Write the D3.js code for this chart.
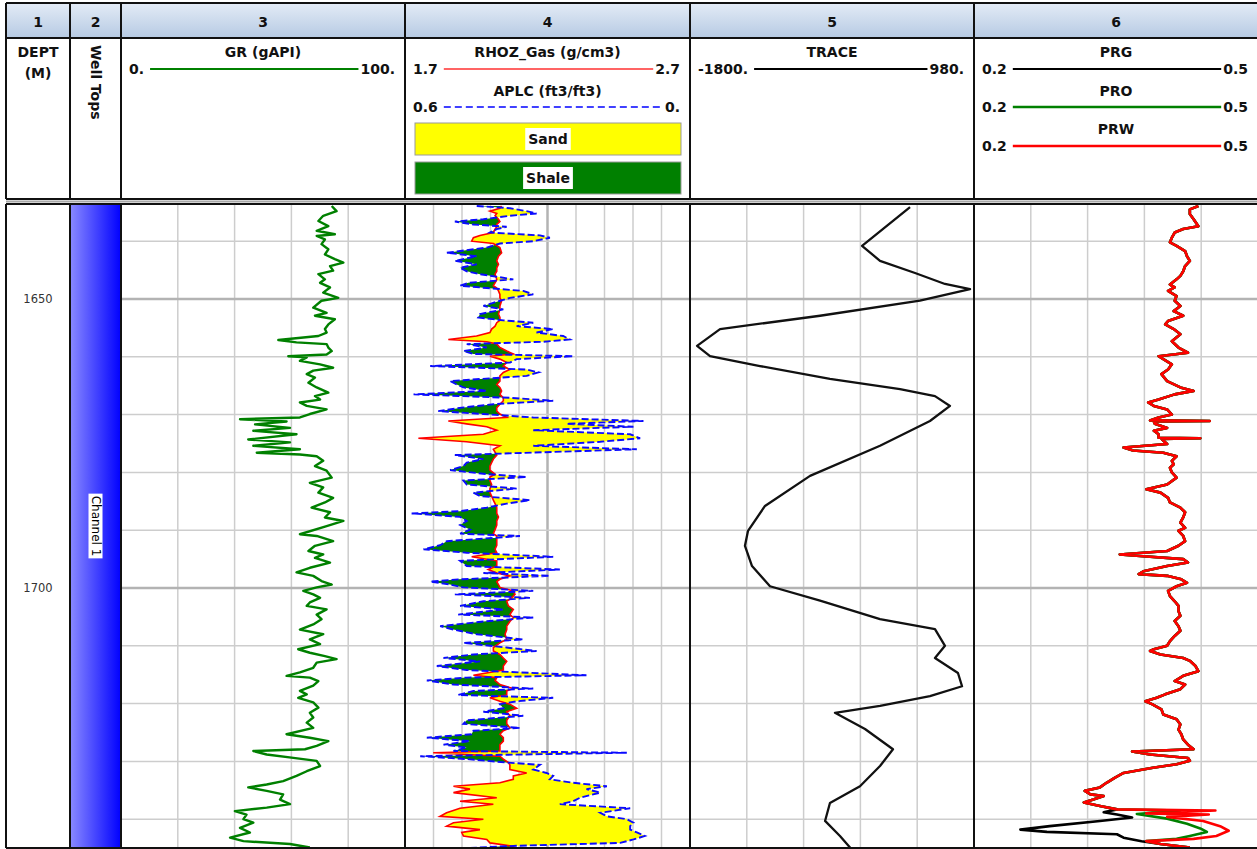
<!DOCTYPE html>
<html>
<head>
<meta charset="utf-8">
<script src="https://cdn.jsdelivr.net/npm/d3@7"></script>
<style>
  body { margin: 0; background: #fff; }
  svg { display: block; }
  text { font-family: "DejaVu Sans", Verdana, sans-serif; }
</style>
</head>
<body>
<svg id="log" width="1257" height="849"></svg>
<script>
// ---------------- Data ----------------
const trackNumbers = ["1", "2", "3", "4", "5", "6"];
const depthTicks = [1650, 1700];

// Curve scale ranges (left, right)
const grRange = [0, 100];
const rhozRange = [1.7, 2.7];
const aplcRange = [0.6, 0];
const traceRange = [-1800, 980];
const prRange = [0.2, 0.5];

// Scale labels as printed in the header
const grLabels = ["0.", "100."];
const rhozLabels = ["1.7", "2.7"];
const aplcLabels = ["0.6", "0."];
const traceLabels = ["-1800.", "980."];
const prLabels = ["0.2", "0.5"];

// Formation tops
const wellTops = [{ name: "Channel 1", top: 1600, base: 1780 }];

// GR (gAPI): [depth m, value]
const grLog = [
  [1633.9,74.2],[1634.8,75.9],[1635.6,71.2],[1636.5,69.5],[1637.4,73.0],[1638.2,68.9],[1638.8,75.3],[1639.1,68.9],
  [1639.7,71.8],[1640.5,70.6],[1641.4,73.0],[1642.3,71.8],[1643.1,75.3],[1643.7,78.3],[1644.3,73.6],[1645.1,74.7],
  [1645.7,69.5],[1646.6,71.8],[1647.2,70.1],[1648.0,73.6],[1648.9,71.2],[1649.8,76.5],[1650.3,70.6],[1651.5,67.7],
  [1652.4,72.4],[1652.9,68.3],[1653.5,75.3],[1654.4,73.0],[1655.2,71.8],[1655.8,72.4],[1656.4,69.5],[1657.1,55.4],
  [1657.5,61.8],[1657.8,72.4],[1658.4,73.0],[1659.0,74.2],[1659.6,72.4],[1659.9,58.9],[1660.1,65.4],[1660.7,63.0],
  [1661.3,70.1],[1661.9,74.7],[1662.4,67.7],[1663.0,65.4],[1663.6,68.3],[1664.5,66.0],[1665.3,68.9],[1666.2,73.0],
  [1666.8,68.3],[1667.4,70.1],[1667.9,63.0],[1668.5,65.4],[1669.1,72.4],[1669.9,66.5],[1670.5,63.0],[1670.8,41.9],
  [1671.2,58.3],[1671.7,47.2],[1672.3,59.5],[1672.8,46.6],[1673.4,61.8],[1674.3,44.8],[1674.8,59.5],[1675.4,46.6],
  [1676.0,63.0],[1676.6,47.8],[1676.9,63.0],[1677.2,68.9],[1678.0,71.2],[1678.9,68.3],[1679.7,72.4],[1680.9,74.2],
  [1681.8,66.5],[1682.6,71.2],[1683.5,69.5],[1684.4,74.7],[1685.2,71.8],[1686.1,67.1],[1686.9,73.6],[1687.8,71.8],
  [1688.4,78.3],[1689.3,72.4],[1690.7,63.0],[1691.0,68.9],[1691.9,74.7],[1692.7,68.3],[1693.6,66.0],[1694.2,71.2],
  [1694.8,68.3],[1695.6,73.6],[1696.5,66.5],[1697.3,61.8],[1697.9,67.7],[1698.8,70.6],[1699.4,74.2],[1699.9,68.9],
  [1700.5,64.2],[1701.1,67.7],[1701.7,70.1],[1702.5,66.5],[1703.1,65.4],[1703.7,72.4],[1704.6,68.9],[1705.4,70.6],
  [1706.3,67.7],[1707.2,63.0],[1708.0,71.2],[1708.9,66.5],[1709.7,70.1],[1710.6,62.4],[1711.2,66.5],[1711.8,71.8],
  [1712.3,75.9],[1712.9,68.9],[1713.8,67.7],[1714.6,63.0],[1715.2,58.3],[1715.5,66.5],[1716.1,69.5],[1716.9,67.7],
  [1717.8,63.0],[1718.4,65.4],[1719.0,62.4],[1719.8,67.7],[1720.7,69.5],[1721.6,66.5],[1722.4,67.7],[1723.3,65.4],
  [1724.2,67.7],[1725.3,58.3],[1725.9,66.5],[1726.5,73.0],[1727.3,68.9],[1727.9,64.8],[1728.2,46.6],[1728.8,51.3],
  [1729.4,60.7],[1729.9,68.9],[1730.8,70.1],[1731.7,65.4],[1732.5,61.8],[1733.4,57.1],[1734.0,51.3],[1734.5,44.8],
  [1735.1,51.3],[1735.7,57.1],[1736.6,56.0],[1737.4,59.5],[1738.0,51.3],[1738.6,40.1],[1739.2,44.2],[1740.0,43.1],
  [1740.6,46.6],[1741.5,41.9],[1742.3,45.4],[1743.2,38.4],[1743.8,43.1],[1744.3,59.5],[1744.9,66.5]
];

// Track 4 samples: depth (m), RHOZ_Gas (g/cm3), APLC (ft3/ft3)
const t4Depth = [
  1633.9,1634.3,1634.8,1635.2,1635.6,1636.2,1636.6,1637.1,1637.5,1637.9,
  1638.5,1639.0,1639.4,1640.0,1640.4,1641.1,1642.0,1642.6,1643.4,1644.0,
  1644.6,1645.2,1645.7,1646.6,1647.2,1647.7,1648.1,1648.6,1649.2,1649.8,
  1650.3,1651.2,1651.8,1652.6,1653.2,1653.7,1654.1,1654.7,1655.2,1655.8,
  1656.4,1657.0,1657.4,1657.8,1658.4,1659.0,1659.5,1659.9,1660.4,1661.0,
  1661.6,1662.2,1662.7,1663.3,1664.2,1664.8,1665.3,1665.9,1666.5,1667.1,
  1667.6,1668.2,1668.8,1669.4,1669.9,1670.5,1671.1,1671.6,1672.1,1672.7,
  1673.4,1674.1,1674.7,1675.4,1676.0,
  1677.0,1677.7,1678.3,1678.9,1679.6,1680.3,1680.8,1681.4,1682.1,1682.8,
  1683.5,1684.1,1684.8,1685.4,1686.1,1686.7,1687.1,1687.7,1688.4,1689.1,
  1689.9,1690.6,1691.0,1691.9,1692.6,1693.3,1693.9,1694.6,1695.3,1696.2,
  1696.8,1697.4,1697.9,1698.5,1698.9,1699.4,1699.9,1700.5,1701.1,1701.7,
  1702.3,1703.1,1703.7,1704.6,1705.1,1705.8,1706.6,1707.2,1708.0,1708.9,
  1709.5,1710.3,1710.9,1711.5,1712.1,1712.7,1713.5,1714.2,1715.1,1715.5,
  1716.0,1716.7,1717.4,1717.8,1718.5,1719.0,1719.6,1720.1,1720.8,1721.4,
  1722.1,1722.9,1723.5,1724.2,1724.7,1725.3,1725.9,1726.5,1727.1,1727.6,
  1728.2,1728.5,1729.1,1729.6,1730.2,1730.6,1731.4,1732.0,1732.5,1733.1,
  1733.7,1734.3,1734.8,1735.4,1736.3,1736.9,1737.4,1738.1,1738.9,1739.5,
  1740.0,1740.6,1741.2,1741.8,1742.3,1742.9,1743.5,1744.1,1744.6,1745.0
];
const rhozGas = [
  2.039,2.033,1.998,2.022,2.016,2.028,2.033,2.022,2.022,2.016,
  2.010,1.963,1.940,1.934,2.010,2.033,2.039,2.028,2.022,2.028,
  2.022,2.022,2.016,2.022,2.016,2.010,2.022,2.028,2.033,2.033,
  2.039,2.033,2.033,2.028,2.033,2.033,2.022,2.016,2.004,1.998,
  1.951,1.852,1.987,2.022,2.033,2.057,2.080,1.998,2.033,2.057,
  2.045,2.068,2.045,2.033,2.033,2.022,2.033,2.039,2.033,2.045,
  2.045,2.033,2.022,2.022,2.033,2.057,1.852,1.916,1.987,2.022,
  1.975,1.747,1.916,2.033,2.010,
  2.022,2.010,2.004,1.998,1.998,2.016,1.998,1.998,2.004,1.998,
  1.998,2.004,2.010,2.016,2.022,2.022,2.022,2.028,2.022,2.022,
  2.016,2.010,2.022,2.022,2.022,2.016,2.022,1.934,2.022,2.022,
  1.992,2.022,2.068,2.033,2.022,2.028,2.033,2.080,2.086,2.074,
  2.057,2.063,2.080,2.068,2.080,2.068,2.057,2.057,2.051,2.057,
  2.033,2.010,2.010,2.033,2.045,2.057,2.045,2.045,1.940,2.022,
  2.016,2.033,2.080,2.057,2.057,1.998,2.033,2.068,2.092,2.057,
  2.068,2.057,2.057,2.068,2.045,2.033,2.045,2.045,2.033,2.033,
  2.033,1.799,2.033,2.045,2.063,2.068,2.068,2.127,2.080,2.080,
  2.033,1.870,1.928,1.870,2.022,1.893,2.010,1.893,1.846,1.823,
  1.975,1.870,1.846,1.963,1.899,1.905,1.987,1.998,2.068,2.092
];
const aplc = [
  0.449,0.379,0.344,0.323,0.379,0.435,0.495,0.456,0.386,0.407,
  0.421,0.316,0.295,0.330,0.400,0.428,0.512,0.449,0.495,0.449,
  0.484,0.470,0.442,0.372,0.467,0.484,0.428,0.351,0.330,0.379,
  0.400,0.435,0.393,0.442,0.446,0.393,0.330,0.365,0.288,0.323,
  0.267,0.253,0.309,0.470,0.428,0.477,0.456,0.246,0.365,0.379,
  0.547,0.344,0.319,0.344,0.505,0.491,0.477,0.428,0.582,0.379,
  0.288,0.414,0.481,0.530,0.435,0.330,0.098,0.260,0.119,0.330,
  0.126,0.105,0.189,0.330,0.112,
  0.495,0.435,0.470,0.477,0.505,0.428,0.344,0.477,0.470,0.365,
  0.456,0.442,0.337,0.386,0.428,0.484,0.586,0.484,0.470,0.484,
  0.463,0.484,0.358,0.512,0.526,0.561,0.470,0.288,0.484,0.470,
  0.274,0.435,0.295,0.488,0.547,0.505,0.477,0.330,0.495,0.337,
  0.435,0.484,0.393,0.488,0.330,0.435,0.526,0.498,0.449,0.351,
  0.477,0.386,0.323,0.456,0.519,0.442,0.533,0.470,0.218,0.470,
  0.554,0.498,0.330,0.456,0.488,0.288,0.365,0.400,0.393,0.435,
  0.351,0.470,0.477,0.358,0.456,0.460,0.554,0.463,0.519,0.470,
  0.498,0.133,0.568,0.470,0.386,0.316,0.330,0.302,0.288,0.295,
  0.246,0.175,0.218,0.189,0.232,0.246,0.274,0.126,0.189,0.175,
  0.133,0.119,0.126,0.126,0.112,0.095,0.119,0.147,0.365,0.470
];

// TRACE: [depth m, amplitude]
const traceLog = [
  [1634.1,354],[1640.8,-116],[1643.4,60],[1645.5,403],[1647.4,696],[1648.3,941],[1650.3,451],[1652.9,-527],
  [1655.2,-1506],[1658.1,-1731],[1659.9,-1604],[1661.6,-1115],[1663.8,-430],[1665.6,256],[1666.8,598],[1668.5,745],
  [1671.1,549],[1675.4,60],[1680.6,-625],[1685.8,-1066],[1690.1,-1232],[1692.7,-1262],[1696.2,-1193],[1699.7,-1017],
  [1702.2,-527],[1705.4,60],[1707.1,598],[1710.0,696],[1712.1,598],[1714.7,823],[1717.0,863],[1718.7,549],
  [1720.4,60],[1721.6,-381],[1724.4,-87],[1727.9,187],[1730.8,60],[1734.3,-136],[1737.2,-430],[1740.3,-478],
  [1742.9,-332],[1745.3,-214]
];

// PRG / PRO / PRW share the same readings above 1738.3 m
const prShared = [
  [1633.9,0.437],[1634.5,0.428],[1635.3,0.428],[1636.2,0.432],[1637.4,0.437],[1637.9,0.421],[1638.5,0.412],[1639.4,0.409],
  [1640.2,0.407],[1640.8,0.414],[1641.7,0.423],[1642.6,0.425],[1643.4,0.428],[1644.3,0.423],[1645.2,0.421],[1646.0,0.418],
  [1646.6,0.414],[1647.5,0.407],[1648.0,0.412],[1648.6,0.405],[1649.5,0.414],[1650.3,0.412],[1651.2,0.418],[1652.1,0.411],
  [1652.9,0.421],[1653.8,0.405],[1654.4,0.402],[1655.2,0.411],[1656.1,0.418],[1657.3,0.409],[1658.4,0.416],[1659.3,0.426],
  [1659.9,0.395],[1660.4,0.400],[1661.3,0.409],[1662.2,0.405],[1663.0,0.398],[1664.2,0.404],[1665.3,0.418],[1665.9,0.432],
  [1666.5,0.412],[1667.4,0.395],[1667.9,0.384],[1668.5,0.390],[1669.1,0.404],[1670.0,0.409],[1670.5,0.395],[1671.0,0.386],
  [1671.1,0.449],[1671.2,0.390],[1671.6,0.391],[1672.3,0.404],[1672.8,0.390],[1673.4,0.395],[1674.0,0.395],[1674.1,0.439],
  [1674.2,0.398],[1675.1,0.404],[1675.7,0.358],[1676.2,0.368],[1676.6,0.400],[1677.2,0.414],[1678.0,0.409],[1678.6,0.411],
  [1679.2,0.407],[1680.0,0.409],[1680.9,0.414],[1682.1,0.404],[1682.9,0.382],[1683.5,0.397],[1684.4,0.405],[1685.2,0.407],
  [1686.1,0.418],[1686.9,0.423],[1687.8,0.421],[1688.7,0.418],[1689.6,0.423],[1690.1,0.416],[1691.0,0.421],[1691.9,0.423],
  [1692.7,0.416],[1693.6,0.404],[1694.2,0.354],[1694.5,0.379],[1695.0,0.421],[1695.6,0.426],[1696.2,0.404],[1697.1,0.379],
  [1697.6,0.374],[1697.9,0.404],[1698.5,0.419],[1699.1,0.425],[1699.7,0.414],[1700.5,0.405],[1701.4,0.407],[1702.3,0.412],
  [1703.1,0.416],[1704.0,0.416],[1704.8,0.418],[1705.7,0.412],[1706.6,0.416],[1707.4,0.418],[1708.3,0.412],[1709.2,0.407],
  [1710.0,0.404],[1710.6,0.390],[1710.9,0.386],[1711.5,0.397],[1712.1,0.421],[1712.6,0.428],[1713.5,0.434],[1714.4,0.437],
  [1715.2,0.421],[1716.1,0.412],[1716.7,0.423],[1717.5,0.418],[1718.4,0.402],[1719.0,0.393],[1719.6,0.381],[1720.1,0.388],
  [1721.0,0.398],[1721.9,0.400],[1722.7,0.414],[1723.6,0.418],[1724.5,0.416],[1725.3,0.419],[1726.2,0.421],[1727.1,0.426],
  [1727.9,0.432],[1728.3,0.367],[1728.8,0.386],[1729.4,0.426],[1729.9,0.428],[1730.5,0.414],[1731.1,0.389],[1732.0,0.358],
  [1732.8,0.349],[1733.7,0.340],[1734.5,0.333],[1735.1,0.317],[1735.7,0.323],[1736.0,0.337],[1736.6,0.326],[1737.1,0.316],
  [1737.7,0.333],[1738.3,0.351]
];
const prgBase = [
  [1738.8,0.337],[1739.2,0.351],[1739.7,0.367],[1740.3,0.333],[1741.2,0.280],[1741.8,0.249],[1742.2,0.277],[1742.6,0.351],
  [1743.2,0.358],[1743.8,0.377],[1744.3,0.397],[1744.9,0.428]
];
const proBase = [
  [1738.5,0.418],[1739.1,0.372],[1739.9,0.404],[1740.8,0.425],[1741.6,0.439],[1742.2,0.446],[1742.9,0.428],[1743.4,0.414],
  [1743.8,0.382],[1744.3,0.397],[1744.9,0.428]
];
const prwBase = [
  [1738.5,0.455],[1739.0,0.382],[1739.2,0.448],[1739.6,0.404],[1740.3,0.442],[1741.2,0.460],[1742.0,0.469],[1742.9,0.456],
  [1743.4,0.432],[1743.8,0.382],[1744.3,0.397],[1744.9,0.428]
];

// ---------------- Layout ----------------
const W = 1257, H = 849;
const colX = [6, 70, 121, 405, 690, 974, 1258];
const HDR_TOP = 3, HDR_MID = 38, HDR_BOT = 199, PLOT_TOP = 204, PLOT_BOT = 848;
const rows = [
  { title: 57, line: 69, label: 74 },
  { title: 96, line: 107, label: 112 },
  { title: 134, line: 146, label: 151 }
];

const svg = d3.select("#log");
const defs = svg.append("defs");

const hdrGrad = defs.append("linearGradient").attr("id", "hdrGrad")
  .attr("x1", 0).attr("y1", 0).attr("x2", 0).attr("y2", 1);
hdrGrad.append("stop").attr("offset", 0).attr("stop-color", "#e3ebf6");
hdrGrad.append("stop").attr("offset", 1).attr("stop-color", "#b6cae3");

const topGrad = defs.append("linearGradient").attr("id", "topGrad")
  .attr("x1", 0).attr("y1", 0).attr("x2", 1).attr("y2", 0);
topGrad.append("stop").attr("offset", 0).attr("stop-color", "#8a8aff");
topGrad.append("stop").attr("offset", 1).attr("stop-color", "#0000ff");

// clip region for each track body
colX.slice(0, -1).forEach((x0, i) => {
  defs.append("clipPath").attr("id", "clip" + i)
    .append("rect").attr("x", x0).attr("y", PLOT_TOP)
    .attr("width", colX[i + 1] - x0).attr("height", PLOT_BOT - PLOT_TOP);
});

svg.append("rect").attr("width", W).attr("height", H).attr("fill", "#fff");

// ---------------- Scales ----------------
const y = d3.scaleLinear().domain([1650, 1700]).range([299, 588]);
const xGR = d3.scaleLinear().domain(grRange).range([colX[2], colX[3]]);
const xRhoz = d3.scaleLinear().domain(rhozRange).range([colX[3], colX[4]]);
const xAplc = d3.scaleLinear().domain(aplcRange).range([colX[3], colX[4]]);
const xTrace = d3.scaleLinear().domain(traceRange).range([colX[4], colX[5]]);
const xPR = d3.scaleLinear().domain(prRange).range([colX[5], colX[6]]);

// ---------------- Header ----------------
svg.append("rect").attr("x", colX[0]).attr("y", HDR_TOP)
  .attr("width", colX[6] - colX[0]).attr("height", HDR_MID - HDR_TOP)
  .attr("fill", "url(#hdrGrad)");

trackNumbers.forEach((t, i) => {
  svg.append("text").attr("x", (colX[i] + colX[i + 1]) / 2).attr("y", 27)
    .attr("text-anchor", "middle").attr("font-size", 14).attr("font-weight", "bold")
    .attr("fill", "#111").text(t);
});

const hdr = svg.append("g").attr("font-size", 14).attr("font-weight", "bold").attr("fill", "#111");
hdr.append("text").attr("x", 38).attr("y", 57).attr("text-anchor", "middle").text("DEPT");
hdr.append("text").attr("x", 38).attr("y", 78).attr("text-anchor", "middle").text("(M)");
hdr.append("text").attr("transform", "translate(96,45) rotate(90)")
  .attr("dominant-baseline", "central").text("Well Tops");

function curveHeader(track, row, title, labels, color, width, dash) {
  const x0 = colX[track], x1 = colX[track + 1], r = rows[row];
  hdr.append("text").attr("x", (x0 + x1) / 2).attr("y", r.title)
    .attr("text-anchor", "middle").text(title);
  const lt = hdr.append("text").attr("x", x0 + 8).attr("y", r.label).text(labels[0]);
  const rt = hdr.append("text").attr("x", x1 - 10).attr("y", r.label)
    .attr("text-anchor", "end").text(labels[1]);
  const a = lt.node().getBBox(), b = rt.node().getBBox();
  svg.append("line").attr("x1", a.x + a.width + 6).attr("x2", b.x - 2)
    .attr("y1", r.line).attr("y2", r.line)
    .attr("stroke", color).attr("stroke-width", width)
    .attr("stroke-dasharray", dash || null);
}
curveHeader(2, 0, "GR (gAPI)", grLabels, "#008000", 2);
curveHeader(3, 0, "RHOZ_Gas (g/cm3)", rhozLabels, "#ff3030", 1.5);
curveHeader(3, 1, "APLC (ft3/ft3)", aplcLabels, "#4040ff", 1.8, "7,4");
curveHeader(4, 0, "TRACE", traceLabels, "#000", 2);
curveHeader(5, 0, "PRG", prLabels, "#000", 2);
curveHeader(5, 1, "PRO", prLabels, "#008000", 2.5);
curveHeader(5, 2, "PRW", prLabels, "#ff0000", 2.5);

// fill legend boxes
const fillLegend = [
  { label: "Sand", color: "#ffff00", top: 123 },
  { label: "Shale", color: "#008000", top: 162 }
];
fillLegend.forEach(f => {
  svg.append("rect").attr("x", 415).attr("y", f.top).attr("width", 266).attr("height", 32)
    .attr("fill", f.color).attr("stroke", "#9a9a9a").attr("stroke-width", 1);
  const t = svg.append("text").attr("x", 548).attr("y", f.top + 16)
    .attr("text-anchor", "middle").attr("dominant-baseline", "central")
    .attr("font-size", 14).attr("font-weight", "bold").attr("fill", "#111").text(f.label);
  const bb = t.node().getBBox();
  svg.insert("rect", () => t.node()).attr("x", bb.x - 3).attr("y", f.top + 5)
    .attr("width", bb.width + 6).attr("height", 22).attr("fill", "#fff");
});

// ---------------- Track bodies ----------------
const dTop = y.invert(PLOT_TOP), dBot = y.invert(PLOT_BOT);
const gridDepths = d3.ticks(dTop, dBot, 11);

function grid(track, divisions, majorIndex) {
  const x0 = colX[track], x1 = colX[track + 1];
  const g = svg.append("g").attr("clip-path", `url(#clip${track})`);
  for (let k = 1; k < divisions; k++) {
    const x = x0 + (x1 - x0) * k / divisions;
    const major = k === majorIndex;
    g.append("line").attr("x1", x).attr("x2", x).attr("y1", PLOT_TOP).attr("y2", PLOT_BOT)
      .attr("stroke", major ? "#b3b3b3" : "#cdcdcd").attr("stroke-width", major ? 2.5 : 1.5);
  }
  gridDepths.forEach(d => {
    const major = d % 50 === 0;
    g.append("line").attr("x1", x0).attr("x2", x1).attr("y1", y(d)).attr("y2", y(d))
      .attr("stroke", major ? "#b3b3b3" : "#cdcdcd").attr("stroke-width", major ? 2.5 : 1.5);
  });
}
grid(2, 5);
grid(3, 10, 5);
grid(4, 5);
grid(5, 5);

// depth labels
depthTicks.forEach(d => {
  svg.append("text").attr("x", 38).attr("y", y(d)).attr("text-anchor", "middle")
    .attr("dominant-baseline", "central").attr("font-size", 11.5).attr("fill", "#333")
    .text(d);
});

// well tops
const topsG = svg.append("g").attr("clip-path", "url(#clip1)");
wellTops.forEach(t => {
  const y0 = Math.max(y(t.top), PLOT_TOP), y1 = Math.min(y(t.base), PLOT_BOT);
  topsG.append("rect").attr("x", colX[1]).attr("y", y0).attr("width", colX[2] - colX[1])
    .attr("height", y1 - y0).attr("fill", "url(#topGrad)");
  const lg = topsG.append("g").attr("transform", `translate(${(colX[1] + colX[2]) / 2},${(y0 + y1) / 2}) rotate(90)`);
  const lt = lg.append("text").attr("text-anchor", "middle").attr("dominant-baseline", "central")
    .attr("font-size", 12).attr("fill", "#000").text(t.name);
  const bb = lt.node().getBBox();
  lg.insert("rect", "text").attr("x", bb.x - 2).attr("y", bb.y).attr("width", bb.width + 4)
    .attr("height", bb.height).attr("fill", "#fff");
});

const lineOf = sx => d3.line().x(d => sx(d[1])).y(d => y(d[0]));

// GR
svg.append("g").attr("clip-path", "url(#clip2)").append("path")
  .attr("d", lineOf(xGR)(grLog)).attr("fill", "none")
  .attr("stroke", "#008000").attr("stroke-width", 2.4).attr("stroke-linejoin", "round");

// Track 4: crossover fills between RHOZ_Gas and APLC
const t4 = t4Depth.map((d, i) => ({ y: y(d), xr: xRhoz(rhozGas[i]), xb: xAplc(aplc[i]) }));
const pts = [];
t4.forEach((p, i) => {
  if (i > 0) {
    const q = t4[i - 1];
    const a = q.xb - q.xr, b = p.xb - p.xr;
    if (a * b < 0) {
      const t = a / (a - b);
      const xc = q.xr + t * (p.xr - q.xr);
      pts.push({ y: q.y + t * (p.y - q.y), xr: xc, xb: xc });
    }
  }
  pts.push(p);
});
const g4 = svg.append("g").attr("clip-path", "url(#clip3)");
g4.append("path").attr("fill", "#ffff00")
  .attr("d", d3.area().y(p => p.y).x0(p => p.xr).x1(p => Math.max(p.xr, p.xb))(pts));
g4.append("path").attr("fill", "#008000")
  .attr("d", d3.area().y(p => p.y).x0(p => Math.min(p.xr, p.xb)).x1(p => p.xr)(pts));
g4.append("path").attr("fill", "none").attr("stroke", "#ff0000").attr("stroke-width", 1.6)
  .attr("d", d3.line().x(p => p.xr).y(p => p.y)(t4));
g4.append("path").attr("fill", "none").attr("stroke", "#0a0aff").attr("stroke-width", 1.9)
  .attr("stroke-dasharray", "7,3")
  .attr("d", d3.line().x(p => p.xb).y(p => p.y)(t4));

// TRACE
svg.append("g").attr("clip-path", "url(#clip4)").append("path")
  .attr("d", lineOf(xTrace)(traceLog)).attr("fill", "none")
  .attr("stroke", "#111").attr("stroke-width", 2.3).attr("stroke-linejoin", "round");

// PRG / PRO / PRW
const g6 = svg.append("g").attr("clip-path", "url(#clip5)");
[
  { data: prShared.concat(prgBase), color: "#000" },
  { data: prShared.concat(proBase), color: "#008000" },
  { data: prShared.concat(prwBase), color: "#ff0000" }
].forEach(c => {
  g6.append("path").attr("d", lineOf(xPR)(c.data)).attr("fill", "none")
    .attr("stroke", c.color).attr("stroke-width", 2.6).attr("stroke-linejoin", "round");
});

// ---------------- Frame ----------------
const frame = svg.append("g").attr("stroke", "#111").attr("stroke-width", 2);
[HDR_TOP, HDR_MID, HDR_BOT, PLOT_TOP, PLOT_BOT].forEach(yy => {
  frame.append("line").attr("x1", colX[0]).attr("x2", colX[6]).attr("y1", yy).attr("y2", yy);
});
svg.append("line").attr("x1", colX[0]).attr("x2", colX[6]).attr("y1", 201.5).attr("y2", 201.5)
  .attr("stroke", "#a8a8a8").attr("stroke-width", 2);
colX.forEach(x => {
  frame.append("line").attr("x1", x).attr("x2", x).attr("y1", HDR_TOP).attr("y2", HDR_BOT);
  frame.append("line").attr("x1", x).attr("x2", x).attr("y1", PLOT_TOP).attr("y2", PLOT_BOT);
});
</script>
</body>
</html>
